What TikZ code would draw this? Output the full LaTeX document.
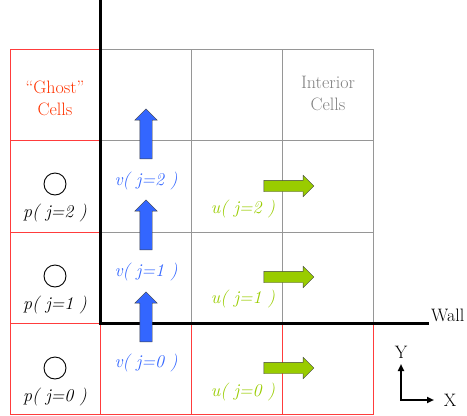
\documentclass[tikz,border=0pt]{standalone}
\usepackage{tikz}
\usetikzlibrary{arrows.meta,shapes.arrows}
\usepackage{fontspec}
\definecolor{ghostred}{RGB}{255,51,0}
\definecolor{cellred}{RGB}{255,60,60}
\definecolor{cellgray}{RGB}{150,150,150}
\definecolor{vblue}{RGB}{51,102,255}
\definecolor{ugreen}{RGB}{153,204,0}

\begin{document}
\begin{tikzpicture}[x=1pt, y=-1pt, font=\fontsize{18}{22}\selectfont,
  interior/.style = {draw=cellgray, line width=0.9pt},
  ghost/.style = {draw=cellred, line width=0.9pt},
  wall/.style = {line width=3pt},
  varrow/.style = {single arrow, draw=black!75, fill=vblue, rotate=90, minimum height=50, inner xsep=0pt, inner ysep=6pt, single arrow head extend=5pt},
  uarrow/.style = {single arrow, draw=black!75, fill=ugreen, minimum height=50, inner xsep=0pt, inner ysep=5.5pt, single arrow head extend=5pt},
  pnode/.style = {circle, draw, line width=0.9pt, minimum size=22, inner sep=0pt},
  axis/.style = {line width=2pt, -{Triangle[length=7pt,width=6pt]}}]

    \useasboundingbox (0,0) rectangle (467,416);

    % interior cells
    \draw[interior] (100,49) rectangle (373,323);
    \draw[interior] (191,49) -- (191,323) (282,49) -- (282,323);
    \draw[interior] (100,140) -- (373,140) (100,232) -- (373,232);

    % ghost cells
    \draw[ghost] (10,49) rectangle (100,414);
    \draw[ghost] (10,140) -- (100,140) (10,232) -- (100,232) (10,323) -- (100,323);
    \draw[ghost] (100,323) rectangle (373,414);
    \draw[ghost] (191,323) -- (191,414) (282,323) -- (282,414);

    % wall
    \coordinate (wtop) at (100,0);
    \coordinate (wcorner) at (100,323);
    \coordinate (wend) at (429,323);
    \draw[wall] (wtop) -- (wcorner) -- (wend);
    \node[anchor=base west, inner sep=1pt] (wall) at (430,321) {Wall};

    % labels of the cell kinds
    \node[ghostred, align=center] (ghostlab) at (55,98) {“Ghost”\\Cells};
    \node[gray, align=center] (interiorlab) at (328,93) {Interior\\Cells};

    % pressure points
    \node[pnode] (p2) at (55,184) {};
    \node[pnode] (p1) at (55,276) {};
    \node[pnode] (p0) at (55,368) {};
    \node (p2lab) at (55,213) {\textit{p( j=2 )}};
    \node (p1lab) at (55,305) {\textit{p( j=1 )}};
    \node (p0lab) at (55,397) {\textit{p( j=0 )}};

    % v velocities
    \node[varrow] (v2) at (146,137) {};
    \node[varrow] (v1) at (146,228) {};
    \node[varrow] (v0) at (146,320) {};
    \node[vblue] (v2lab) at (146,181) {\textit{v( j=2 )}};
    \node[vblue] (v1lab) at (146,272) {\textit{v( j=1 )}};
    \node[vblue] (v0lab) at (146,363) {\textit{v( j=0 )}};

    % u velocities
    \node[uarrow] (u2) at (286,186) {};
    \node[uarrow] (u1) at (286,277) {};
    \node[uarrow] (u0) at (286,368) {};
    \node[ugreen] (u2lab) at (243,209) {\textit{u( j=2 )}};
    \node[ugreen] (u1lab) at (243,299) {\textit{u( j=1 )}};
    \node[ugreen] (u0lab) at (243,392) {\textit{u( j=0 )}};

    % axes
    \coordinate (o) at (401,400);
    \coordinate (ytip) at (401,364);
    \coordinate (xtip) at (434,400);
    \draw[axis] (o) -- (ytip);
    \draw[axis] ([xshift=-1pt]o) -- (xtip);
    \node (ylab) at (401,352) {Y};
    \node (xlab) at (450,400) {X};

\end{tikzpicture}
\end{document}
